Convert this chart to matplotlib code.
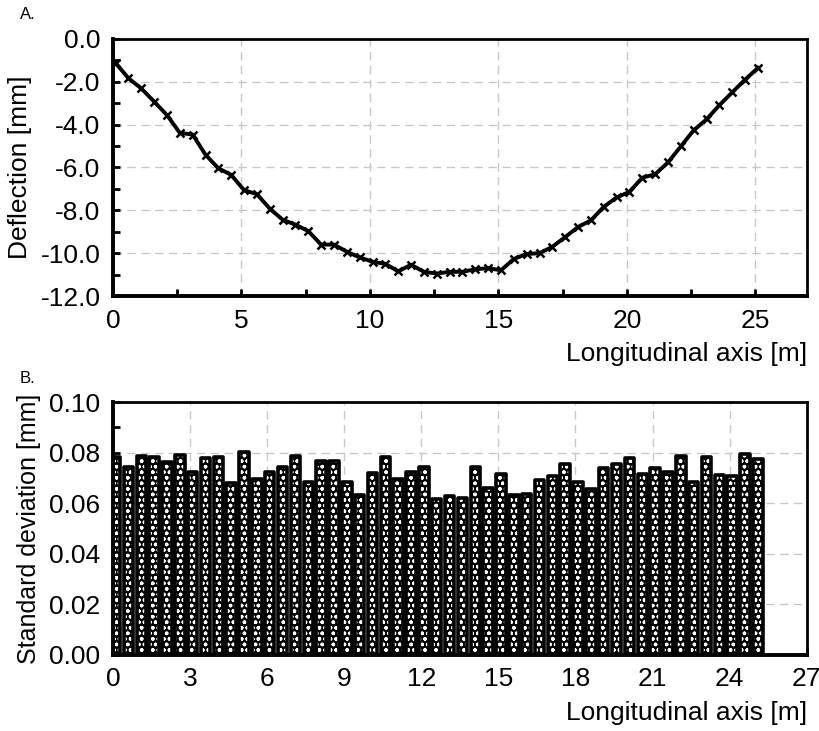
import matplotlib
matplotlib.use('Agg')
import matplotlib.pyplot as plt
from matplotlib.ticker import MultipleLocator, FormatStrFormatter
import numpy as np

# ---- data ----
position = [0.1 + 0.5 * i for i in range(51)]   # station positions [m]

deflection = [-1.13, -1.84, -2.32, -2.93, -3.56, -4.39, -4.47, -5.41, -6.04, -6.35,
              -7.06, -7.25, -7.92, -8.44, -8.67, -8.97, -9.60, -9.60, -9.93, -10.20,
              -10.40, -10.50, -10.85, -10.54, -10.87, -10.95, -10.87, -10.87, -10.75, -10.70,
              -10.80, -10.27, -10.04, -10.00, -9.70, -9.25, -8.78, -8.47, -7.84, -7.40,
              -7.14, -6.48, -6.32, -5.77, -5.02, -4.27, -3.76, -3.10, -2.50, -1.91,
              -1.36]

std_dev = [0.0784, 0.0745, 0.0787, 0.0784, 0.0762, 0.0791, 0.0725, 0.0778, 0.0782, 0.0680,
           0.0801, 0.0697, 0.0725, 0.0745, 0.0787, 0.0682, 0.0767, 0.0766, 0.0685, 0.0634,
           0.0718, 0.0783, 0.0697, 0.0725, 0.0742, 0.0617, 0.0630, 0.0621, 0.0745, 0.0660,
           0.0716, 0.0634, 0.0638, 0.0693, 0.0706, 0.0756, 0.0682, 0.0658, 0.0740, 0.0756,
           0.0779, 0.0715, 0.0740, 0.0724, 0.0787, 0.0682, 0.0782, 0.0710, 0.0709, 0.0795,
           0.0775]

# ---- style ----
plt.rcParams['font.family'] = ['Liberation Sans', 'DejaVu Sans']
GRID_C = '#c8c8c8'
FS = 19


def style_axes(ax):
    for side in ('top', 'right'):
        ax.spines[side].set_linewidth(2.0)
    for side in ('left', 'bottom'):
        ax.spines[side].set_linewidth(2.8)
    ax.tick_params(which='both', direction='in', length=5, width=2,
                   labelsize=FS, top=False, right=False, pad=9)
    ax.grid(True, which='major', color=GRID_C, linestyle=(0, (6, 4)), linewidth=1.0)
    ax.set_axisbelow(True)


fig = plt.figure(figsize=(8.19, 7.31), dpi=100)

# ---- A: deflection ----
ax1 = fig.add_axes([0.138, 0.595, 0.847, 0.352])
ax1.plot(position, deflection, '-', color='black', linewidth=2.8,
         marker='x', markersize=6, markeredgewidth=1.8)
ax1.set_xlim(0, 27)
ax1.set_ylim(-12, 0)
ax1.xaxis.set_major_locator(MultipleLocator(5))
ax1.xaxis.set_minor_locator(MultipleLocator(2.5))
ax1.yaxis.set_major_locator(MultipleLocator(2))
ax1.yaxis.set_minor_locator(MultipleLocator(1))
ax1.yaxis.set_major_formatter(FormatStrFormatter('%.1f'))
style_axes(ax1)
ax1.set_ylabel('Deflection [mm]', fontsize=FS, labelpad=6)
ax1.set_xlabel('Longitudinal axis [m]', fontsize=FS, loc='right', labelpad=7)

# ---- B: standard deviation ----
ax2 = fig.add_axes([0.138, 0.104, 0.847, 0.346])
ax2.bar(position, std_dev, width=0.37, color='black', edgecolor='white',
        hatch='ooo', linewidth=0, zorder=2)
ax2.bar(position, std_dev, width=0.37, fill=False, edgecolor='black',
        linewidth=2.6, joinstyle='round', zorder=3)
ax2.set_xlim(0, 27)
ax2.set_ylim(0, 0.10)
ax2.xaxis.set_major_locator(MultipleLocator(3))
ax2.yaxis.set_major_locator(MultipleLocator(0.02))
ax2.yaxis.set_minor_locator(MultipleLocator(0.01))
ax2.yaxis.set_major_formatter(FormatStrFormatter('%.2f'))
style_axes(ax2)
ax2.set_ylabel('Standard deviation [mm]', fontsize=18, labelpad=6)
ax2.set_xlabel('Longitudinal axis [m]', fontsize=FS, loc='right', labelpad=7)

fig.text(0.024, 0.980, 'A.', fontsize=12, va='center')
fig.text(0.024, 0.482, 'B.', fontsize=12, va='center')

fig.savefig('out.png', dpi=100)
